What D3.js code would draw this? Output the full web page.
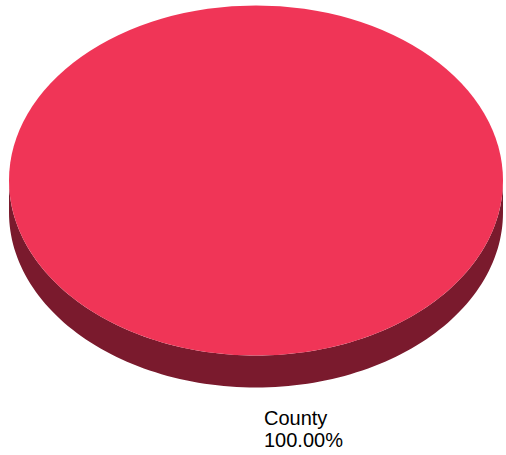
<!DOCTYPE html>
<html>
<head>
<meta charset="utf-8">
<script src="https://cdn.jsdelivr.net/npm/d3@7"></script>
<style>
  html, body { margin: 0; padding: 0; background: #fff; }
  svg { display: block; }
</style>
</head>
<body>
<svg id="chart" width="506" height="455"></svg>
<script>
// Data
const categories = ["County"];
const values = [100];
const topColors = ["#F03557"];
const sideColors = ["#7A1A2D"];

const width = 506, height = 455;
const cx = 256, cy = 180.5;     // centre of the top face
const rx = 247, ry = 175;       // radii of the tilted disc
const depth = 32;               // thickness of the disc

const svg = d3.select("#chart");

const pie = d3.pie().sort(null).startAngle(0).endAngle(2 * Math.PI);
const slices = pie(values);
const total = d3.sum(values);

// point on the ellipse for a d3 pie angle (0 = 12 o'clock, clockwise)
function pt(a, dy = 0) {
  return [cx + rx * Math.sin(a), cy - ry * Math.cos(a) + dy];
}

// outer wall: only the front half (angles between PI/2 and 3PI/2) is visible
function wallPath(d) {
  const a0 = Math.max(d.startAngle, Math.PI / 2);
  const a1 = Math.min(d.endAngle, 3 * Math.PI / 2);
  if (a1 <= a0) return null;
  const n = 120;
  const angs = d3.range(n + 1).map(i => a0 + (a1 - a0) * i / n);
  const top = angs.map(a => pt(a));
  const bot = angs.slice().reverse().map(a => pt(a, depth));
  return d3.line()(top.concat(bot)) + "Z";
}

const g = svg.append("g");

g.selectAll("path.wall")
  .data(slices)
  .join("path")
  .attr("class", "wall")
  .attr("d", wallPath)
  .attr("fill", (d, i) => sideColors[i]);

// top face drawn with d3.arc, squashed vertically into an ellipse
const arc = d3.arc().innerRadius(0).outerRadius(rx);
g.append("g")
  .attr("transform", `translate(${cx},${cy}) scale(1,${ry / rx})`)
  .selectAll("path.top")
  .data(slices)
  .join("path")
  .attr("class", "top")
  .attr("d", arc)
  .attr("fill", (d, i) => topColors[i]);

// slice labels
const fmt = d3.format(".2f");
const lbl = svg.append("g")
  .attr("font-family", "'Liberation Sans', Arial, sans-serif")
  .attr("font-size", 20)
  .attr("fill", "#000");

slices.forEach((d, i) => {
  const t = lbl.append("text").attr("x", 264).attr("y", 425);
  t.append("tspan").attr("x", 264).text(categories[i]);
  t.append("tspan").attr("x", 264).attr("dy", 22)
    .text(fmt(d.value / total * 100) + "%");
});
</script>
</body>
</html>
